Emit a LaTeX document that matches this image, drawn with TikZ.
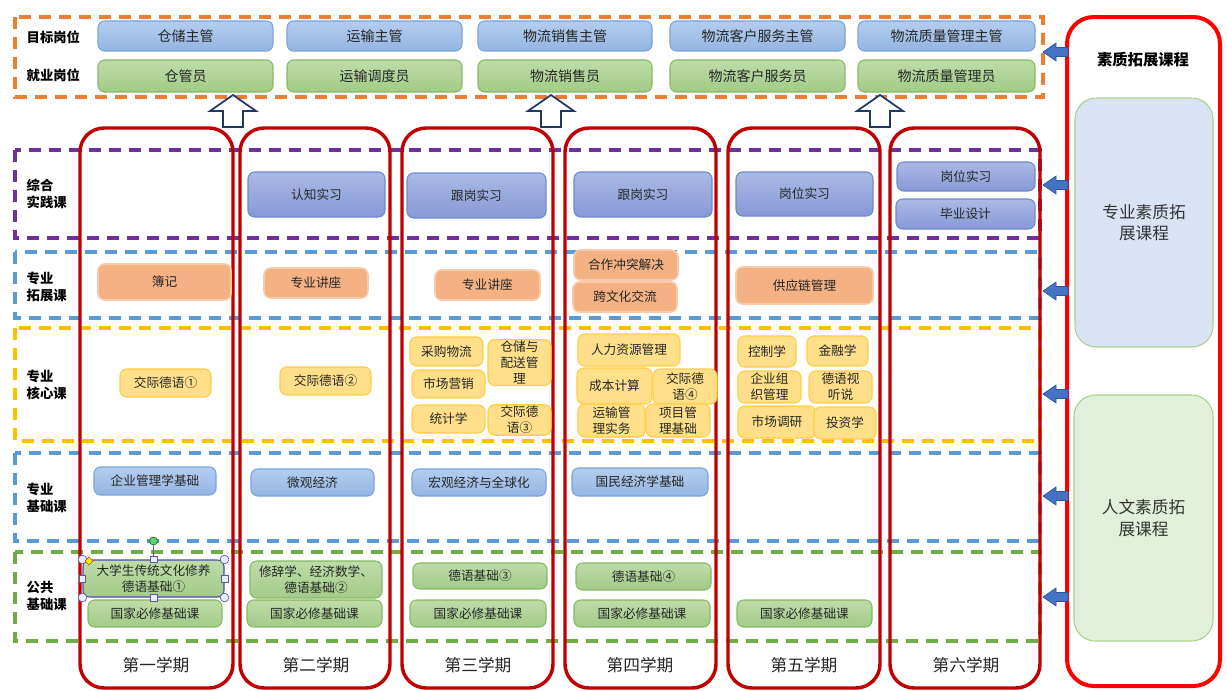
\documentclass[tikz,border=0pt]{standalone}
\usepackage{fontspec}
\setmainfont{Noto Sans CJK SC}
\usetikzlibrary{shapes.geometric}
\definecolor{blueT}{HTML}{B4CDEE}
\definecolor{blueB}{HTML}{93B5E3}
\definecolor{blueBd}{HTML}{7BA3DA}
\definecolor{greenT}{HTML}{BEDCA8}
\definecolor{greenB}{HTML}{A2CB87}
\definecolor{greenBd}{HTML}{86BA64}
\definecolor{pracT}{HTML}{AAB9E5}
\definecolor{pracB}{HTML}{8799D6}
\definecolor{pracBd}{HTML}{6F89CF}
\definecolor{orgF}{HTML}{F4B183}
\definecolor{orgBd}{HTML}{F8CBAD}
\definecolor{yelF}{HTML}{FFDF8A}
\definecolor{yelBd}{HTML}{FFCD45}
\definecolor{dOrange}{HTML}{ED7D31}
\definecolor{dPurple}{HTML}{7030A0}
\definecolor{dBlue}{HTML}{5B9BD5}
\definecolor{dGold}{HTML}{FFC000}
\definecolor{dGreen}{HTML}{70AD47}
\definecolor{semRed}{HTML}{C00000}
\definecolor{navy}{HTML}{1F3864}
\definecolor{arrBlue}{HTML}{4472C4}
\definecolor{arrBd}{HTML}{2F5597}
\definecolor{qBlue}{HTML}{DAE3F3}
\definecolor{qGreen}{HTML}{E2EFDA}
\definecolor{qBd}{HTML}{A9D18E}
\def\px{0.75pt}
% style, x1, y1, x2, y2, name, text
\newcommand\cbox[7]{\node[#1, minimum width={(#4-#2)*\px}, minimum height={(#5-#3)*\px}] (#6) at ({(#2+#4)/2},{(#3+#5)/2}) {#7};}
\newcommand\uparr[2]{\draw[hollowarr] ({#1},95) -- ({#1+23},111) -- ({#1+10},111) -- ({#1+10},127) -- ({#1-10},127) -- ({#1-10},111) -- ({#1-23},111) -- cycle; \coordinate (#2) at ({#1},111);}
\newcommand\leftarr[2]{\draw[leftarrsty] (1043,{#1}) -- (1056,{#1-9}) -- (1056,{#1-4.5}) -- (1068,{#1-4.5}) -- (1068,{#1+4.5}) -- (1056,{#1+4.5}) -- (1056,{#1+9}) -- cycle; \coordinate (#2) at (1055,{#1});}
\begin{document}
\begin{tikzpicture}[x=0.75pt,y=-0.75pt,
  bx/.style={rounded corners=5pt, draw, line width=0.8pt, inner sep=1pt, align=center, font=\fontsize{9.5}{11}\selectfont, text=black!85},
  bluebox/.style={bx, draw=blueBd, top color=blueT, bottom color=blueB},
  greenbox/.style={bx, draw=greenBd, top color=greenT, bottom color=greenB},
  pracbox/.style={bx, draw=pracBd, top color=pracT, bottom color=pracB},
  orgbox/.style={bx, draw=orgBd, fill=orgF, line width=1.2pt},
  yelbox/.style={bx, draw=yelBd, fill=yelF, font=\fontsize{9.5}{12}\selectfont},
  topbox/.style={font=\fontsize{10.5}{12}\selectfont},
  band/.style={draw=#1, line width=3pt, dash pattern=on 9pt off 6pt},
  semcol/.style={draw=semRed, line width=2.6pt, rounded corners=18pt},
  semlab/.style={font=\fontsize{12.5}{14}\selectfont, text=black!85},
  rowlab/.style={anchor=west, align=left, font=\bfseries\fontsize{10}{13}\selectfont},
  hollowarr/.style={draw=navy, fill=white, line width=1.3pt, line join=miter},
  leftarrsty/.style={draw=arrBd, fill=arrBlue, line width=0.5pt},
  handle/.style={draw=gray!70!blue, fill=white!92!blue, line width=0.5pt}
]
\useasboundingbox (0,0) rectangle (1227,690);

% dashed bands
\draw[band=dOrange] (15,17) rectangle (1043,97);
\draw[band=dPurple] (15,150) rectangle (1040,238);
\draw[band=dBlue] (15,252) rectangle (1040,318);
\draw[band=dGold] (15,328) rectangle (1040,441);
\draw[band=dBlue] (15,453) rectangle (1040,541);
\draw[band=dGreen] (15,552) rectangle (1040,641);

% row labels
\node[rowlab] (lt1) at (22,37) {目标岗位};
\node[rowlab] (lt2) at (22,75) {就业岗位};
\node[rowlab] (l1) at (22,194) {综合\\实践课};
\node[rowlab] (l2) at (22,287) {专业\\拓展课};
\node[rowlab] (l3) at (22,385) {专业\\核心课};
\node[rowlab] (l4) at (22,498) {专业\\基础课};
\node[rowlab] (l5) at (22,596) {公共\\基础课};

% top positions
\cbox{bluebox,topbox}{98}{21}{273}{51}{t1}{仓储主管}
\cbox{bluebox,topbox}{287}{21}{462}{51}{t2}{运输主管}
\cbox{bluebox,topbox}{478}{21}{652}{51}{t3}{物流销售主管}
\cbox{bluebox,topbox}{670}{21}{845}{51}{t4}{物流客户服务主管}
\cbox{bluebox,topbox}{858}{21}{1035}{51}{t5}{物流质量管理主管}
\cbox{greenbox,topbox}{98}{60}{273}{92}{e1}{仓管员}
\cbox{greenbox,topbox}{287}{60}{462}{92}{e2}{运输调度员}
\cbox{greenbox,topbox}{478}{60}{652}{92}{e3}{物流销售员}
\cbox{greenbox,topbox}{670}{60}{845}{92}{e4}{物流客户服务员}
\cbox{greenbox,topbox}{858}{60}{1035}{92}{e5}{物流质量管理员}

% semester columns
\cbox{semcol}{80}{128}{233}{688}{s1}{}
\cbox{semcol}{240}{128}{390}{688}{s2}{}
\cbox{semcol}{402}{128}{553}{688}{s3}{}
\cbox{semcol}{565}{128}{716}{688}{s4}{}
\cbox{semcol}{728}{128}{880}{688}{s5}{}
\cbox{semcol}{890}{128}{1040}{688}{s6}{}
\node[semlab] (sl1) at (156,665) {第一学期};
\node[semlab] (sl2) at (316,665) {第二学期};
\node[semlab] (sl3) at (478,665) {第三学期};
\node[semlab] (sl4) at (640,665) {第四学期};
\node[semlab] (sl5) at (804,665) {第五学期};
\node[semlab] (sl6) at (966,665) {第六学期};

% up arrows
\uparr{233}{ua1}
\uparr{551}{ua2}
\uparr{880}{ua3}

% right column
\cbox{draw=red, line width=3pt, rounded corners=20pt}{1067}{17}{1220}{686}{rc}{}
\node[font=\bfseries\fontsize{11.5}{13}\selectfont] (rt) at (1143,60) {素质拓展课程};
\cbox{draw=qBd, fill=qBlue, line width=0.8pt, rounded corners=16pt, align=center, font=\fontsize{12.5}{16}\selectfont, text=black!80}{1075}{98}{1213}{347}{rq1}{专业素质拓\\展课程}
\cbox{draw=qBd, fill=qGreen, line width=0.8pt, rounded corners=16pt, align=center, font=\fontsize{12.5}{16}\selectfont, text=black!80}{1074}{395}{1213}{641}{rq2}{人文素质拓\\展课程}

% left arrows
\leftarr{52}{la0}
\leftarr{185}{la1}
\leftarr{291}{la2}
\leftarr{394}{la3}
\leftarr{496}{la4}
\leftarr{597}{la5}

% practice
\cbox{pracbox}{248}{172}{385}{217}{p2}{认知实习}
\cbox{pracbox}{407}{173}{546}{218}{p3}{跟岗实习}
\cbox{pracbox}{574}{172}{712}{217}{p4}{跟岗实习}
\cbox{pracbox}{736}{172}{873}{216}{p5}{岗位实习}
\cbox{pracbox}{897}{162}{1035}{191}{p6a}{岗位实习}
\cbox{pracbox}{896}{199}{1035}{229}{p6b}{毕业设计}

% extension
\cbox{orgbox}{98}{264}{231}{300}{x1}{簿记}
\cbox{orgbox}{264}{268}{368}{298}{x2}{专业讲座}
\cbox{orgbox}{435}{270}{540}{300}{x3}{专业讲座}
\cbox{orgbox}{574}{250}{678}{280}{x4a}{合作冲突解决}
\cbox{orgbox}{573}{282}{677}{312}{x4b}{跨文化交流}
\cbox{orgbox}{736}{267}{873}{304}{x5}{供应链管理}

% core
\cbox{yelbox}{120}{369}{211}{397}{c1}{交际德语①}
\cbox{yelbox}{280}{367}{371}{395}{c2}{交际德语②}
\cbox{yelbox}{410}{337}{483}{366}{c3a}{采购物流}
\cbox{yelbox}{488}{341}{551}{384}{c3b}{仓储与\\配送管\\理}
\cbox{yelbox}{412}{370}{485}{398}{c3c}{市场营销}
\cbox{yelbox}{412}{405}{485}{433}{c3d}{统计学}
\cbox{yelbox}{488}{405}{551}{435}{c3e}{交际德\\语③}
\cbox{yelbox}{578}{334}{680}{366}{c4a}{人力资源管理}
\cbox{yelbox}{577}{368}{652}{404}{c4b}{成本计算}
\cbox{yelbox}{653}{369}{717}{404}{c4c}{交际德\\语④}
\cbox{yelbox}{578}{404}{645}{437}{c4d}{运输管\\理实务}
\cbox{yelbox}{646}{404}{710}{437}{c4e}{项目管\\理基础}
\cbox{yelbox}{738}{336}{796}{367}{c5a}{控制学}
\cbox{yelbox}{807}{336}{868}{366}{c5b}{金融学}
\cbox{yelbox}{738}{371}{801}{403}{c5c}{企业组\\织管理}
\cbox{yelbox}{809}{371}{872}{403}{c5d}{德语视\\听说}
\cbox{yelbox}{738}{406}{816}{438}{c5e}{市场调研}
\cbox{yelbox}{814}{407}{876}{439}{c5f}{投资学}

% basics
\cbox{bluebox}{94}{467}{216}{495}{b1}{企业管理学基础}
\cbox{bluebox}{251}{469}{374}{496}{b2}{微观经济}
\cbox{bluebox}{412}{469}{546}{496}{b3}{宏观经济与全球化}
\cbox{bluebox}{572}{468}{708}{496}{b4}{国民经济学基础}

% public
\cbox{greenbox, draw=gray!60!blue, font=\fontsize{9.5}{11.5}\selectfont}{83}{560}{224}{597}{g1a}{大学生传统文化修养\\德语基础①}
\cbox{greenbox, font=\fontsize{9.5}{11.5}\selectfont}{250}{561}{382}{598}{g2a}{修辞学、经济数学、\\德语基础②}
\cbox{greenbox}{88}{600}{222}{627}{g1b}{国家必修基础课}
\cbox{greenbox}{247}{600}{382}{627}{g2b}{国家必修基础课}
\cbox{greenbox}{413}{563}{547}{589}{g3a}{德语基础③}
\cbox{greenbox}{410}{600}{546}{627}{g3b}{国家必修基础课}
\cbox{greenbox}{576}{563}{711}{590}{g4a}{德语基础④}
\cbox{greenbox}{574}{600}{710}{627}{g4b}{国家必修基础课}
\cbox{greenbox}{737}{600}{872}{627}{g5b}{国家必修基础课}

% selection handles on g1a
\draw[gray!70!blue, line width=0.5pt] (g1a.north) -- (153.5,541);
\node[circle, draw=green!40!black, fill=green!70!black!60, inner sep=0pt, minimum size=6pt] (rot) at (153.5,541) {};
\foreach \p in {north west, north east, south west, south east}
  \node[handle, circle, inner sep=0pt, minimum size=6.5pt] at (g1a.\p) {};
\foreach \p in {north, south, west, east}
  \node[handle, rectangle, inner sep=0pt, minimum size=5pt] at (g1a.\p) {};
\node[diamond, draw=orange!70!black, fill=yellow!90!orange, inner sep=0pt, minimum size=6pt] (dia) at (89,561) {};

\end{tikzpicture}
\end{document}
